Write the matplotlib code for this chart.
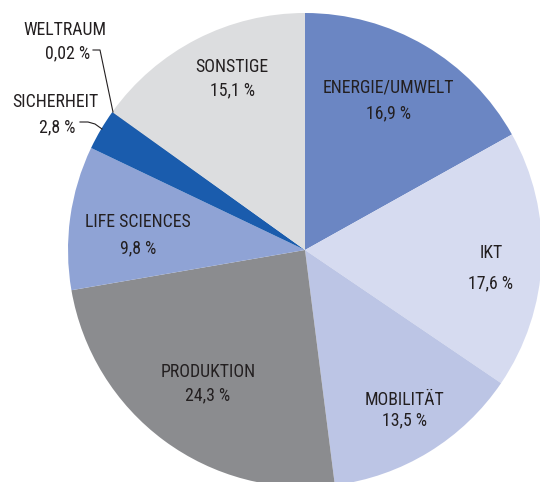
import matplotlib
matplotlib.use("Agg")
import matplotlib.pyplot as plt

# shares in percent, clockwise from 12 o'clock
categories = ["ENERGIE/UMWELT", "IKT", "MOBILITÄT", "PRODUKTION",
              "LIFE SCIENCES", "SICHERHEIT", "WELTRAUM", "SONSTIGE"]
shares = [16.9, 17.6, 13.5, 24.3, 9.8, 2.8, 0.02, 15.1]
share_labels = ["16,9 %", "17,6 %", "13,5 %", "24,3 %", "9,8 %", "2,8 %", "0,02 %", "15,1 %"]

colors = ["#6b86c3", "#d6dbf0", "#bcc5e5", "#8b8c8f",
          "#8fa3d5", "#1a5cad", "#0d3b7a", "#dcdddf"]

W, H = 540, 482
plt.rcParams['font.family'] = ['Roboto Condensed', 'Archivo Narrow', 'Barlow Condensed', 'DejaVu Sans']

fig = plt.figure(figsize=(W / 100, H / 100), dpi=100)
ax = fig.add_axes([0, 0, 1, 1])

def py(y):
    # pixel row (from top) -> data y
    return H - y

ax.pie(shares, colors=colors, startangle=90, counterclock=False,
       center=(305, py(250)), radius=237,
       wedgeprops=dict(linewidth=0))

FS = 12.8
INK = "#231f20"
txt = dict(fontsize=FS, color=INK, ha="center", va="center")

# labels inside slices: (x, y of name line, y of value line) in pixels
inside = {
    0: (388, 88, 113),
    1: (491, 253, 283),
    2: (404, 400, 420),
    3: (208, 372, 395),
    4: (138, 222, 248),
    7: (232, 67, 90),
}
for i, (x, y1, y2) in inside.items():
    ax.text(x, py(y1), categories[i], **txt)
    ax.text(x, py(y2), share_labels[i], **txt)

# small slices with leader lines
ax.text(65, py(30), categories[6], **txt)
ax.text(90, py(53), share_labels[6], fontsize=FS, color=INK, ha="right", va="center")
ax.plot([93, 100, 113], [py(50), py(50), py(112)], color=INK, lw=0.8)

ax.text(55, py(102), categories[5], **txt)
ax.text(75, py(127), share_labels[5], fontsize=FS, color=INK, ha="right", va="center")
ax.plot([80, 88, 95, 102], [py(122), py(122), py(124), py(129)], color=INK, lw=0.8)

ax.set_xlim(0, W)
ax.set_ylim(0, H)
ax.set_aspect("equal")
ax.axis("off")

fig.savefig("out.png", dpi=100, facecolor="white")
